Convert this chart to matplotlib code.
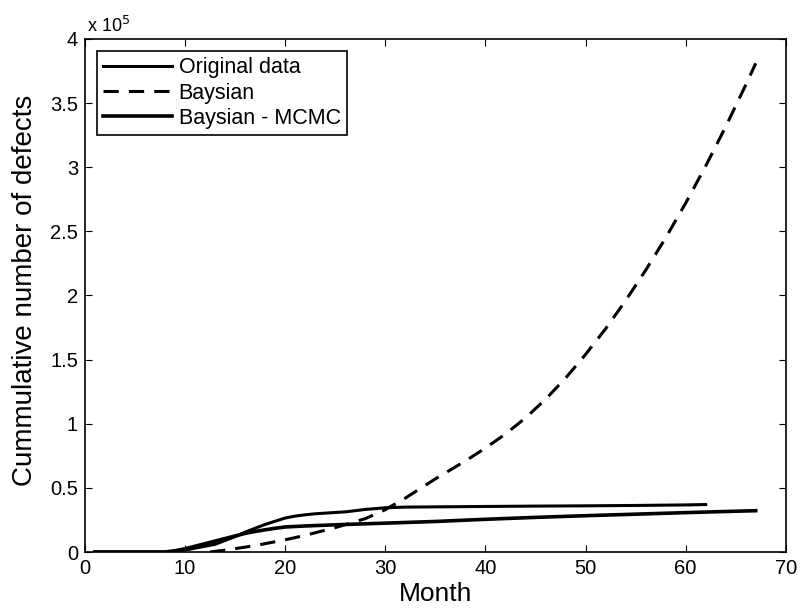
import numpy as np
import matplotlib
matplotlib.use("Agg")
import matplotlib.pyplot as plt

plt.rcParams['font.family'] = ['Liberation Sans', 'DejaVu Sans']

# original data (months 1..62), cumulative defects
orig_month = [1, 8, 9, 10, 11, 12, 13, 14, 15, 16, 17, 18, 19, 20, 21, 22, 23, 24, 25,
              26, 27, 28, 29, 30, 32, 35, 40, 45, 50, 55, 60, 62]
orig_defects = [0, 0, 500, 1500, 3000, 4500, 6000, 9000, 12000, 15500, 18500, 21500,
                24000, 26500, 28000, 29000, 29800, 30300, 30800, 31300, 32200, 33200,
                33800, 34500, 35000, 35200, 35500, 35800, 36000, 36300, 36700, 37000]

# Bayesian prediction
bay_month = [12.5, 14.5, 17, 20, 22, 25, 28, 30, 32, 33, 35, 38, 40, 42, 44, 46, 48,
             50, 52, 54, 56, 58, 60, 62, 64, 66, 67]
bay_defects = [0, 2000, 5000, 9500, 13000, 19000, 26000, 33000, 42000, 47000, 57000,
               71000, 81000, 92000, 104500, 119000, 135500, 154000, 174000, 196000,
               219600, 244900, 272000, 300900, 331600, 364100, 381000]

# Bayesian - MCMC
mcmc_month = [1, 8, 9, 10, 11, 12, 13, 14, 15, 16, 17, 18, 19, 20, 22, 25, 28, 30, 35,
              40, 45, 50, 55, 60, 65, 67]
mcmc_defects = [0, 0, 1000, 2500, 4500, 6500, 8500, 10500, 12500, 14500, 16000, 17300,
                18500, 19500, 20300, 21200, 22000, 22500, 23800, 25500, 27000, 28300,
                29500, 30700, 31800, 32200]

xticks = [0, 10, 20, 30, 40, 50, 60, 70]
yticks = [0, 0.5e5, 1e5, 1.5e5, 2e5, 2.5e5, 3e5, 3.5e5, 4e5]
ytick_labels = ['0', '0.5', '1', '1.5', '2', '2.5', '3', '3.5', '4']

fig = plt.figure(figsize=(8.01, 6.13), dpi=100)
ax = fig.add_axes([0.106, 0.0995, 0.875, 0.837])

ax.plot(orig_month, orig_defects, color='black', lw=2.2, label='Original data')
ax.plot(bay_month, bay_defects, color='black', lw=2.2, linestyle=(0, (5, 3.3)),
        label='Baysian')
ax.plot(mcmc_month, mcmc_defects, color='black', lw=2.6, label='Baysian - MCMC')

ax.set_xlim(0, 70)
ax.set_ylim(0, 4e5)
ax.set_xticks(xticks)
ax.set_yticks(yticks)
ax.set_yticklabels(ytick_labels)
ax.tick_params(direction='in', top=True, right=True, labelsize=14.5, length=5, pad=5)
for s in ax.spines.values():
    s.set_linewidth(1.2)

ax.text(0.003, 1.014, r'x 10$^5$', transform=ax.transAxes, fontsize=13,
        ha='left', va='baseline')

ax.set_xlabel('Month', fontsize=19)
ax.set_ylabel('Cummulative number of defects', fontsize=20)
ax.xaxis.set_label_coords(0.5, -0.058)
ax.yaxis.set_label_coords(-0.067, 0.51)

leg = ax.legend(loc='upper left', fontsize=15.5, fancybox=False, edgecolor='black',
                framealpha=1, handlelength=3.2, borderpad=0.3, labelspacing=0.2,
                handletextpad=0.3, borderaxespad=0.55)
leg.get_frame().set_linewidth(1.2)

fig.savefig('out.png', dpi=100)
